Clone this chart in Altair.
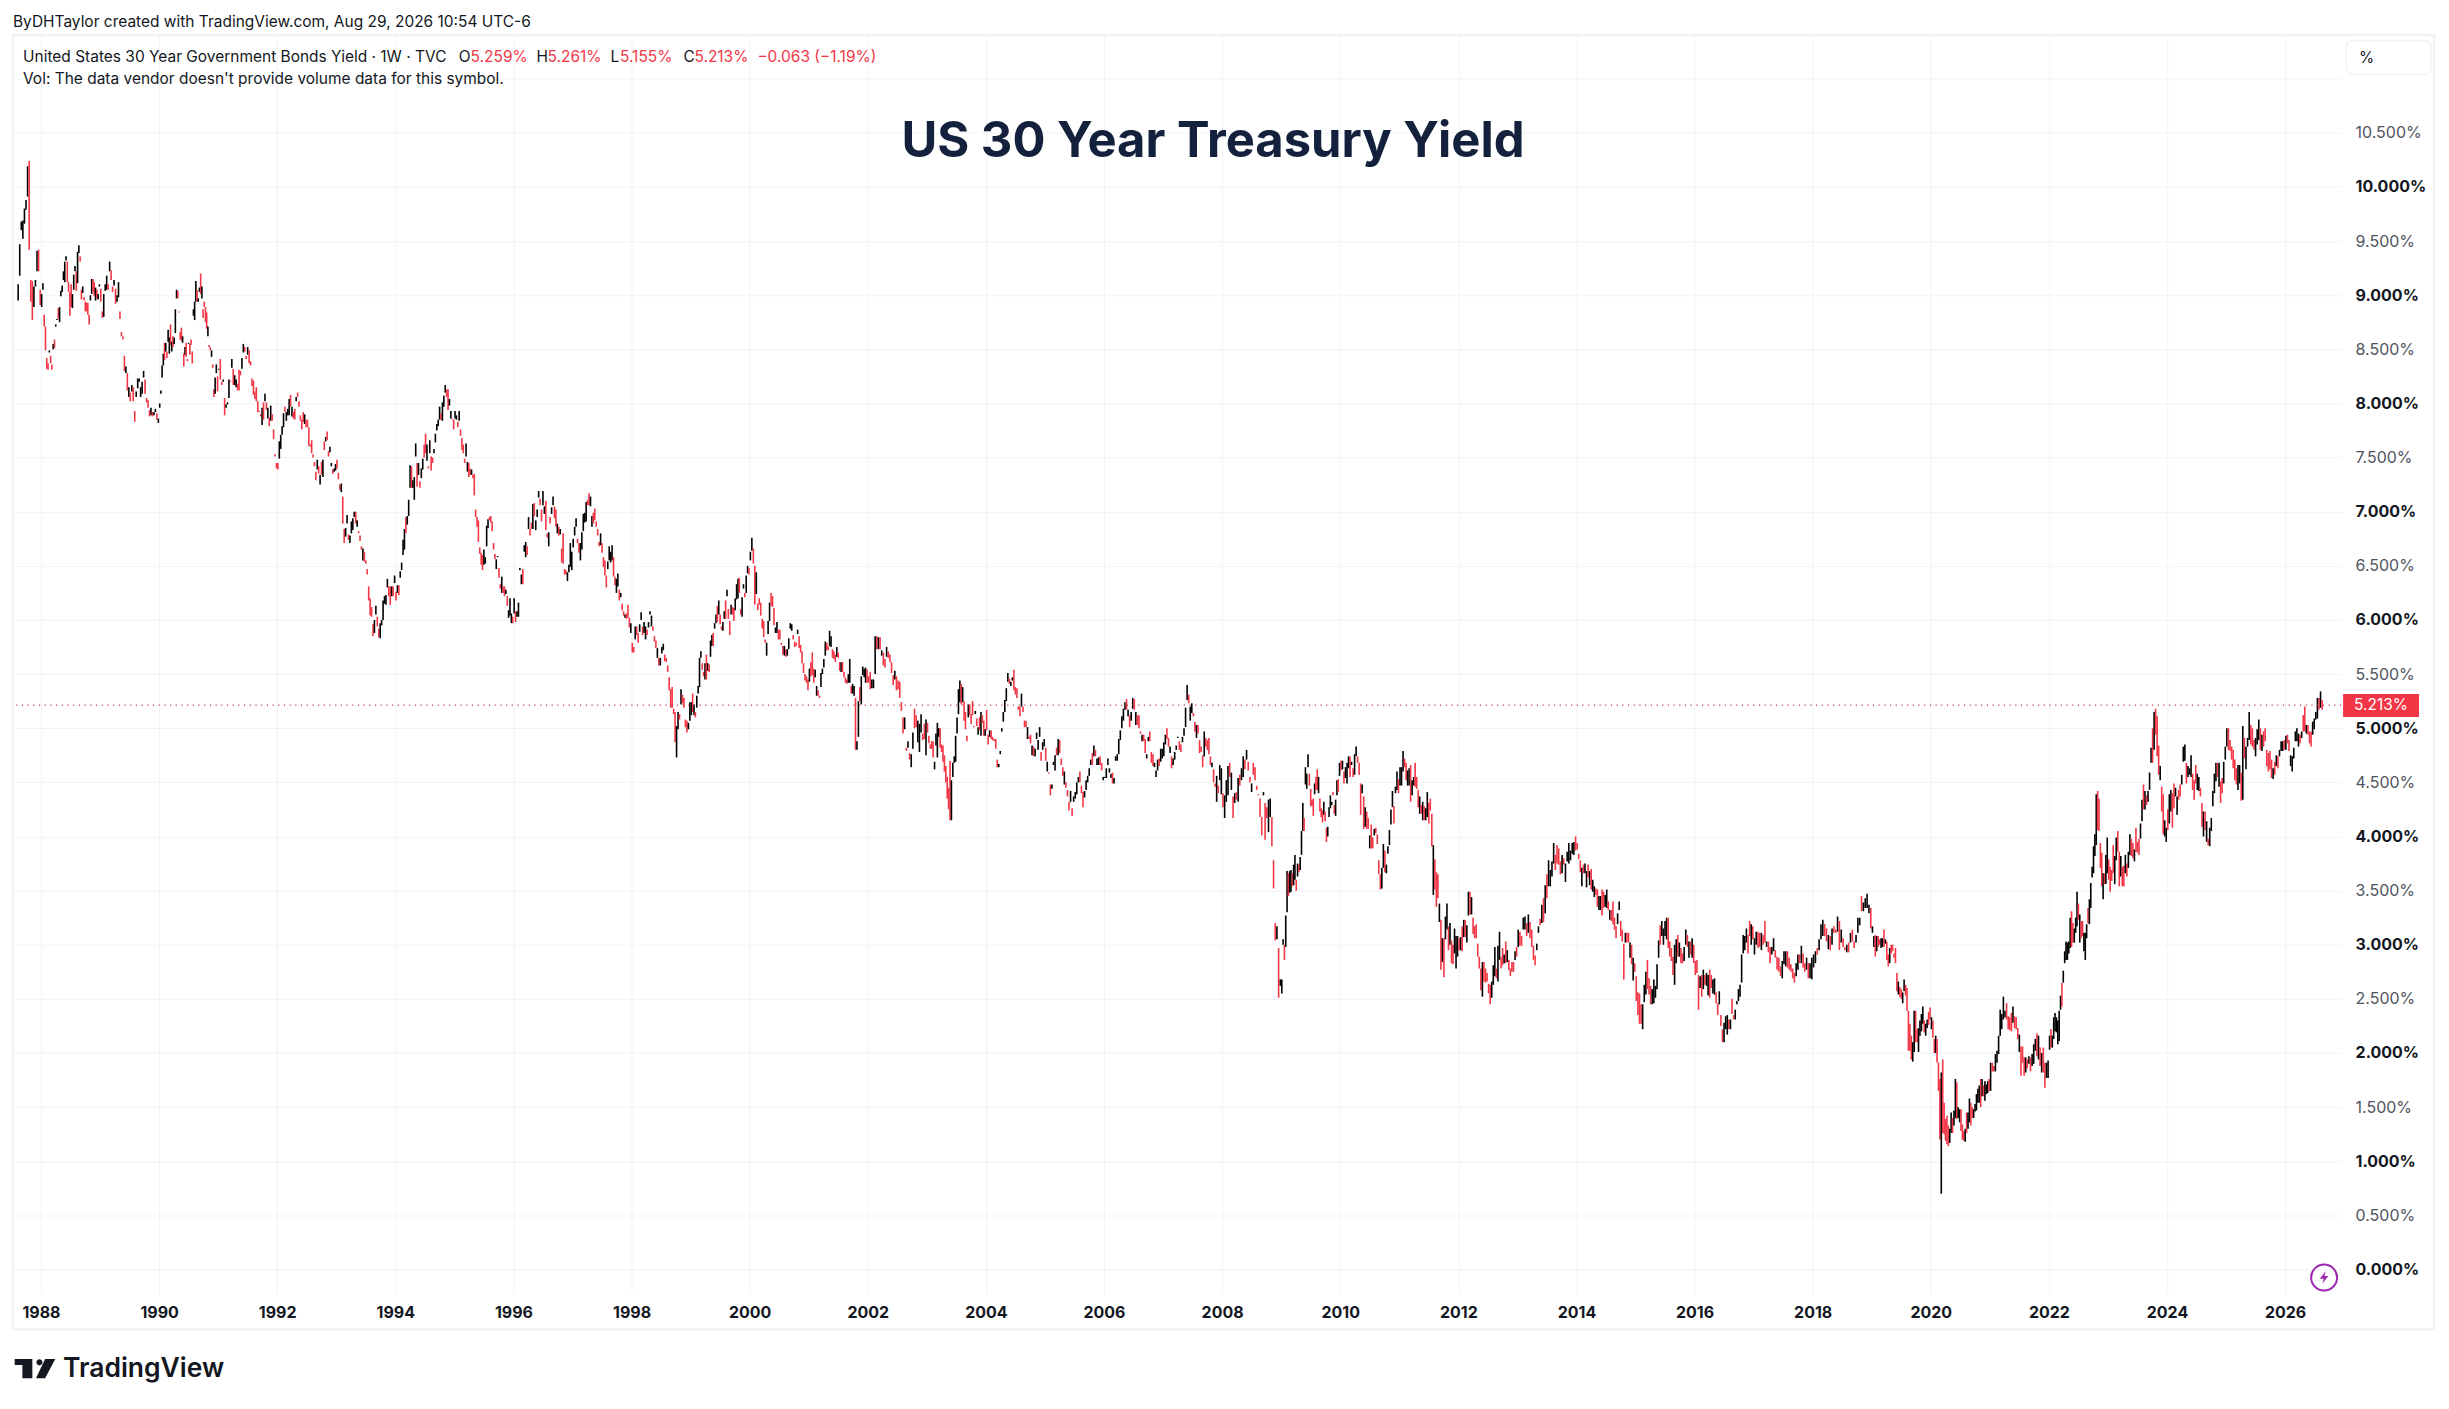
import altair as alt
import pandas as pd

# Each bar: (low, high, closed_up), in chart order per year
y1987 = [(8.95,9.10,1),(9.18,9.47,1),(9.60,9.68,1),(9.52,9.69,1),(9.66,9.80,1),(9.79,9.88,1),(9.91,10.19,1),(9.42,10.24,0),(8.94,9.14,0),(8.77,9.13,0),(8.89,9.08,1),(9.08,9.14,1),(9.22,9.41,1),(9.22,9.42,0),(8.91,9.05,0)]
y1988 = [(8.89,9.01,1),(9.05,9.11,1),(8.71,8.82,0),(8.49,8.71,0),(8.32,8.42,0),(8.31,8.37,0),(8.47,8.49,1),(8.37,8.44,0),(8.31,8.36,0),(8.50,8.55,1),(8.51,8.59,0),(8.71,8.73,1),(8.77,8.78,1),(8.78,8.88,0),(8.75,8.89,1),(8.99,9.04,1),(9.03,9.09,1),(9.14,9.22,1),(9.12,9.31,1),(9.32,9.36,1),(9.12,9.31,0),(9.03,9.12,0),(8.81,9.03,0),(8.89,9.10,0),(8.88,9.01,1),(9.05,9.19,1),(9.22,9.27,1),(9.04,9.22,0),(9.11,9.40,1),(9.39,9.46,1),(9.31,9.36,0),(8.96,9.05,0),(9.02,9.08,1),(8.95,8.98,0),(8.85,8.94,0),(8.85,8.93,0),(8.82,8.93,0),(8.73,8.82,0),(8.95,9.0,1),(9.01,9.15,1),(9.03,9.15,0),(8.99,9.12,0),(8.95,9.07,1),(8.97,9.05,0),(8.96,9.01,1),(9.08,9.10,1)]
y1989 = [(8.94,9.06,0),(8.79,8.85,0),(8.80,9.01,1),(9.04,9.10,1),(9.05,9.18,1),(9.05,9.10,0),(9.22,9.31,1),(9.14,9.23,0),(9.03,9.08,0),(9.09,9.14,1),(8.92,9.06,0),(8.94,9.0,1),(8.98,9.12,1),(8.78,8.85,0),(8.62,8.66,0),(8.59,8.62,0),(8.30,8.44,0),(8.28,8.34,1),(8.12,8.28,0),(8.06,8.15,1),(8.02,8.10,0),(8.11,8.17,1),(8.02,8.15,0),(7.83,7.93,0),(8.06,8.11,1),(8.14,8.23,1),(8.20,8.23,1),(8.06,8.15,1),(8.09,8.2,1),(8.24,8.30,1),(8.09,8.22,0),(8.01,8.05,0),(7.96,8.03,0),(7.88,7.94,0),(7.89,7.96,1),(7.88,7.92,0),(7.89,7.92,1),(7.92,7.95,1),(7.85,7.91,0),(7.82,7.86,1)]
y1990 = [(7.96,8.0,1),(8.09,8.12,1),(8.24,8.35,1),(8.35,8.46,1),(8.4,8.56,0),(8.48,8.56,1),(8.42,8.48,0),(8.57,8.68,1),(8.46,8.61,1),(8.54,8.73,0),(8.48,8.57,1),(8.52,8.62,0),(8.55,8.61,1),(8.65,8.87,1),(8.97,9.05,1),(8.97,9.04,0),(8.84,8.85,0),(8.59,8.66,0),(8.58,8.7,0),(8.56,8.62,1),(8.34,8.46,0),(8.45,8.52,1),(8.43,8.56,0),(8.39,8.41,0),(8.55,8.56,1),(8.45,8.55,0),(8.54,8.59,0),(8.37,8.48,0),(8.81,8.87,1),(8.77,8.94,1),(8.94,9.13,1),(8.94,9.05,0),(8.94,8.97,1),(9.03,9.07,1),(9.01,9.2,0),(8.97,9.08,1),(8.79,8.87,0),(8.89,8.94,0),(8.75,8.89,0),(8.69,8.84,0),(8.62,8.71,1),(8.52,8.54,0),(8.49,8.52,0),(8.43,8.49,1),(8.33,8.36,0),(8.06,8.13,0),(8.09,8.24,1),(8.28,8.36,1),(8.11,8.25,0)]
y1991 = [(8.31,8.32,1),(8.22,8.41,0),(8.17,8.2,0),(8.2,8.22,1),(7.89,8.05,0),(7.96,7.99,1),(7.99,8.01,1),(8.05,8.22,1),(8.2,8.21,0),(8.33,8.41,1),(8.17,8.32,0),(8.17,8.26,1),(8.15,8.22,1),(8.12,8.18,0),(8.12,8.31,0),(8.26,8.3,0),(8.32,8.42,1),(8.47,8.55,1),(8.48,8.52,0),(8.41,8.44,0),(8.45,8.52,1),(8.37,8.49,0),(8.35,8.39,0),(8.16,8.23,0),(8.08,8.21,0),(8.04,8.11,0),(8.02,8.15,0),(7.92,8.02,0),(7.92,7.93,0),(7.88,7.9,0),(7.8,7.96,1),(7.85,8.01,0),(8.02,8.09,1),(7.94,8.01,0),(7.86,7.96,1),(7.79,7.87,0),(7.84,7.98,1),(7.84,7.9,0),(7.67,7.76,0),(7.51,7.53,0),(7.4,7.45,0)]
y1992 = [(7.39,7.45,0),(7.49,7.65,1),(7.58,7.71,1),(7.71,7.79,1),(7.78,7.91,1),(7.92,7.97,0),(7.84,7.92,1),(7.89,7.95,1),(7.89,8.04,1),(7.97,8.08,0),(7.88,7.97,1),(7.86,7.92,0),(7.85,7.95,0),(8.02,8.06,1),(8.06,8.1,0),(7.97,8.02,0),(7.84,7.89,0),(7.76,7.85,0),(7.83,7.92,0),(7.81,7.9,1),(7.78,7.85,0),(7.78,7.85,0),(7.61,7.78,0),(7.6,7.62,0),(7.54,7.66,0),(7.5,7.53,0),(7.42,7.46,0),(7.29,7.37,0),(7.39,7.48,1),(7.35,7.42,0),(7.25,7.34,1),(7.34,7.46,0),(7.32,7.48,1),(7.57,7.65,0),(7.65,7.69,1),(7.66,7.74,0),(7.51,7.56,0),(7.55,7.6,1),(7.42,7.45,1),(7.35,7.39,0),(7.37,7.4,1),(7.38,7.44,1)]
y1993 = [(7.4,7.48,0),(7.3,7.36,0),(7.2,7.25,0),(7.18,7.26,1),(6.89,7.14,0),(6.71,6.84,0),(6.77,6.85,1),(6.89,6.97,1),(6.74,6.79,0),(6.71,6.78,1),(6.8,6.91,1),(6.83,6.94,1),(6.95,7.0,1),(6.89,7.0,0),(6.86,6.92,1),(6.8,6.82,0),(6.73,6.78,0),(6.65,6.68,0),(6.55,6.66,1),(6.54,6.63,0),(6.52,6.55,0),(6.42,6.47,0),(6.18,6.31,0),(6.04,6.2,0),(6.03,6.12,0),(5.85,5.96,0),(5.88,6.0,1),(6.05,6.13,1),(5.94,6.03,0),(5.84,5.92,0),(5.83,5.97,1),(5.95,6.0,1),(6.0,6.18,1),(6.15,6.22,1),(6.14,6.23,1),(6.3,6.38,1),(6.22,6.31,0),(6.14,6.31,0),(6.22,6.31,1),(6.22,6.31,0),(6.34,6.41,1)]
y1994 = [(6.18,6.26,0),(6.25,6.32,1),(6.23,6.32,0),(6.39,6.45,1),(6.46,6.53,1),(6.6,6.74,1),(6.65,6.84,1),(6.8,6.95,0),(6.88,6.96,1),(6.96,7.11,1),(7.22,7.43,1),(7.22,7.42,0),(7.22,7.29,1),(7.11,7.32,1),(7.51,7.63,1),(7.23,7.45,0),(7.34,7.45,1),(7.22,7.28,0),(7.31,7.4,1),(7.39,7.49,1),(7.5,7.62,0),(7.54,7.72,0),(7.47,7.62,1),(7.4,7.42,0),(7.54,7.66,1),(7.38,7.51,0),(7.45,7.5,0),(7.54,7.58,1),(7.64,7.72,1),(7.75,7.81,1),(7.79,7.85,1),(7.85,7.97,1),(7.85,7.91,0),(7.84,8.01,1),(7.97,8.07,1),(8.1,8.17,1),(8.06,8.13,0),(7.94,8.13,0),(7.98,8.04,1),(7.86,7.93,1),(7.85,7.86,0),(7.76,7.85,0)]
y1995 = [(7.86,7.93,1),(7.85,7.89,1),(7.78,7.83,0),(7.84,7.93,1),(7.7,7.76,0),(7.57,7.68,0),(7.54,7.62,0),(7.45,7.49,0),(7.51,7.63,1),(7.37,7.46,1),(7.32,7.45,0),(7.34,7.4,0),(7.34,7.39,1),(7.31,7.34,0),(7.15,7.35,0),(6.95,7.02,0),(6.86,6.95,0),(6.72,6.92,0),(6.61,6.67,0),(6.51,6.62,0),(6.46,6.6,0),(6.51,6.65,1),(6.52,6.58,1),(6.68,6.87,1),(6.85,6.93,1),(6.92,6.95,0),(6.9,6.96,0),(6.82,6.91,0),(6.65,6.71,0),(6.56,6.61,0),(6.47,6.56,1),(6.58,6.59,1),(6.39,6.48,0),(6.29,6.33,0),(6.25,6.4,1),(6.25,6.31,0),(6.22,6.31,0),(6.24,6.28,1),(6.13,6.22,0),(6.02,6.09,1),(6.04,6.2,1),(5.97,6.06,1),(5.97,6.03,0)]
y1996 = [(6.06,6.2,1),(5.98,6.08,0),(6.03,6.08,1),(6.03,6.16,1),(6.46,6.48,1),(6.33,6.42,1),(6.33,6.47,0),(6.63,6.69,1),(6.58,6.72,1),(6.6,6.68,0),(6.84,6.95,1),(6.78,6.84,0),(6.84,6.9,0),(6.84,7.07,1),(6.96,7.08,0),(6.83,6.92,1),(6.95,7.02,1),(7.13,7.19,1),(7.06,7.12,0),(6.91,7.02,0),(7.06,7.19,1),(6.98,7.05,1),(6.83,7.1,0),(6.76,6.8,0),(6.68,6.81,1),(6.89,6.95,0),(6.98,7.04,1),(7.06,7.14,1),(6.94,7.05,0),(6.86,7.02,0),(6.8,6.89,1),(6.78,6.86,0),(6.79,6.84,1),(6.53,6.66,0),(6.52,6.8,0),(6.42,6.47,0),(6.42,6.46,0),(6.36,6.44,1),(6.44,6.51,1),(6.49,6.71,1),(6.46,6.63,1)]
y1997 = [(6.67,6.75,1),(6.78,6.86,1),(6.86,6.94,1),(6.71,6.75,0),(6.62,6.71,0),(6.55,6.71,1),(6.65,6.81,1),(6.82,6.98,1),(6.9,6.99,1),(6.91,7.09,1),(7.06,7.11,0),(7.06,7.17,0),(7.05,7.14,1),(6.86,6.96,1),(6.89,6.99,0),(6.92,7.03,0),(6.86,6.91,0),(6.78,6.84,0),(6.68,6.72,0),(6.69,6.8,1),(6.62,6.71,0),(6.49,6.58,0),(6.41,6.55,0),(6.3,6.41,0),(6.47,6.54,1),(6.55,6.68,1),(6.53,6.63,1),(6.55,6.69,1),(6.4,6.58,0),(6.32,6.4,0),(6.25,6.38,1),(6.31,6.43,1),(6.18,6.28,0),(6.21,6.25,1),(6.09,6.15,0),(6.04,6.08,0),(6.02,6.05,1),(6.01,6.06,0),(6.02,6.14,0),(5.93,6.02,0),(5.88,5.97,1)]
y1998 = [(5.7,5.79,0),(5.7,5.75,0),(5.82,5.94,1),(5.86,5.94,0),(5.79,5.88,0),(5.89,5.96,1),(6.0,6.07,1),(5.86,5.94,0),(5.88,5.98,1),(5.82,5.94,1),(5.86,5.91,0),(5.93,5.98,1),(6.05,6.08,1),(5.94,6.04,1),(5.9,5.94,0),(5.8,5.85,0),(5.74,5.81,0),(5.65,5.74,1),(5.58,5.65,0),(5.58,5.65,1),(5.69,5.75,1),(5.72,5.78,1),(5.62,5.68,0),(5.61,5.65,0),(5.52,5.58,0),(5.35,5.47,0),(5.19,5.36,0),(5.19,5.38,0),(5.13,5.18,0),(4.87,5.15,0),(4.73,5.02,1),(4.99,5.15,1),(5.08,5.13,0),(5.22,5.36,1),(5.23,5.31,0),(5.19,5.28,0),(5.01,5.08,0),(4.96,5.07,0),(4.99,5.05,1),(5.07,5.24,1)]
y1999 = [(5.12,5.24,1),(5.15,5.32,0),(5.12,5.22,1),(5.1,5.15,0),(5.19,5.3,1),(5.32,5.39,1),(5.38,5.65,1),(5.65,5.71,1),(5.54,5.6,0),(5.48,5.52,0),(5.45,5.6,1),(5.45,5.68,0),(5.53,5.6,1),(5.52,5.59,0),(5.66,5.81,1),(5.76,5.86,1),(5.76,5.88,0),(5.92,5.97,1),(5.97,6.05,1),(5.98,6.13,0),(6.05,6.18,1),(5.96,6.05,0),(5.91,5.94,0),(5.9,5.98,1),(6.01,6.08,1),(6.01,6.18,0),(6.22,6.28,1),(6.01,6.1,0),(5.86,5.99,0),(6.05,6.14,1),(6.05,6.12,0),(5.99,6.11,0),(6.09,6.2,1),(6.19,6.33,1),(6.2,6.38,1),(6.25,6.39,0),(6.05,6.1,0),(6.03,6.21,1),(6.29,6.33,1),(6.21,6.25,0),(6.25,6.41,1),(6.43,6.5,1),(6.42,6.48,0)]
y2000 = [(6.55,6.63,1),(6.64,6.76,1),(6.52,6.66,0),(6.14,6.5,0),(6.24,6.44,1),(6.09,6.15,0),(6.14,6.2,0),(6.04,6.16,0),(5.92,6.01,0),(5.84,5.99,0),(5.79,5.82,0),(5.67,5.79,1),(5.87,5.99,1),(5.99,6.16,1),(6.13,6.25,0),(6.12,6.22,0),(5.95,6.11,0),(5.88,5.93,1),(5.88,5.98,1),(5.82,5.91,0),(5.82,5.91,0),(5.77,5.79,0),(5.68,5.76,0),(5.67,5.76,1),(5.66,5.73,0),(5.67,5.73,1),(5.73,5.83,1),(5.92,5.97,1),(5.9,5.96,1),(5.82,5.86,0),(5.75,5.8,0),(5.76,5.79,0),(5.87,5.91,1),(5.74,5.85,0),(5.7,5.77,0),(5.6,5.71,0),(5.51,5.6,0),(5.44,5.5,0),(5.42,5.48,0),(5.35,5.45,0)]
y2001 = [(5.43,5.55,1),(5.48,5.61,0),(5.49,5.7,0),(5.42,5.55,0),(5.47,5.54,1),(5.3,5.39,1),(5.3,5.35,0),(5.28,5.3,0),(5.38,5.51,1),(5.5,5.55,1),(5.56,5.64,1),(5.67,5.8,1),(5.72,5.79,0),(5.72,5.76,0),(5.76,5.9,1),(5.75,5.85,1),(5.65,5.73,0),(5.64,5.71,0),(5.61,5.68,0),(5.66,5.75,1),(5.65,5.7,0),(5.53,5.61,0),(5.52,5.61,1),(5.52,5.61,0),(5.47,5.52,0),(5.42,5.47,0),(5.41,5.45,0),(5.42,5.5,1),(5.42,5.64,1),(5.32,5.39,0),(5.32,5.41,1),(5.3,5.39,1),(4.8,5.28,0),(4.8,4.88,1),(4.92,5.25,1),(5.25,5.38,0),(5.22,5.48,1),(5.49,5.57,1),(5.47,5.55,1),(5.42,5.56,1),(5.42,5.54,0)]
y2002 = [(5.42,5.48,0),(5.36,5.52,0),(5.37,5.45,1),(5.37,5.45,1),(5.5,5.85,1),(5.73,5.85,0),(5.73,5.84,1),(5.73,5.84,0),(5.67,5.72,1),(5.58,5.7,0),(5.56,5.64,0),(5.66,5.75,1),(5.65,5.71,0),(5.61,5.68,0),(5.51,5.61,0),(5.4,5.49,0),(5.45,5.53,1),(5.35,5.48,0),(5.36,5.44,0),(5.28,5.43,0),(5.16,5.24,0),(4.95,5.1,0),(4.99,5.1,1),(4.79,4.82,0),(4.82,4.88,1),(4.71,4.77,0),(4.64,4.76,1),(4.81,4.96,1),(5.0,5.18,0),(5.01,5.12,0),(4.87,5.07,1),(4.78,5.04,1),(4.96,5.13,1),(4.89,4.95,0),(4.9,5.04,0),(4.75,5.08,1)]
y2003 = [(4.96,5.05,0),(4.86,4.93,0),(4.81,4.85,0),(4.81,4.88,0),(4.73,4.88,0),(4.62,4.69,1),(4.84,4.95,1),(4.73,5.05,1),(4.92,5.0,1),(4.82,5.0,0),(4.78,4.85,0),(4.69,4.84,0),(4.6,4.75,0),(4.5,4.65,0),(4.35,4.55,0),(4.25,4.45,0),(4.15,4.7,0),(4.15,4.52,1),(4.55,4.68,1),(4.68,4.74,1),(4.69,4.93,1),(4.95,5.1,1),(5.13,5.36,1),(5.24,5.44,1),(5.22,5.41,0),(5.24,5.38,1),(5.07,5.25,0),(4.99,5.15,0),(4.88,4.93,0),(5.1,5.22,1),(5.12,5.22,0),(5.04,5.13,0),(5.12,5.25,0),(5.01,5.02,0),(5.13,5.16,1),(5.02,5.09,0),(4.94,5.01,1),(4.98,5.1,0),(4.93,5.15,1),(5.05,5.12,0),(4.93,5.07,0),(4.93,4.99,1)]
y2004 = [(4.98,5.17,0),(4.85,4.94,0),(4.92,4.98,1),(4.9,4.98,0),(4.89,4.92,0),(4.88,4.9,0),(4.81,4.9,0),(4.64,4.71,0),(4.64,4.67,1),(4.76,4.79,1),(4.97,5.0,1),(5.06,5.15,1),(5.15,5.26,1),(5.25,5.37,1),(5.43,5.51,1),(5.41,5.46,0),(5.39,5.43,1),(5.44,5.47,1),(5.35,5.54,0),(5.31,5.38,0),(5.28,5.37,0),(5.17,5.2,0),(5.11,5.2,0),(5.2,5.32,1),(5.15,5.2,0),(5.01,5.07,0),(5.01,5.07,0),(4.9,5.01,1),(4.9,4.92,0),(4.86,4.94,0),(4.75,4.84,1),(4.74,4.83,0),(4.74,4.81,1),(4.9,4.96,1),(4.8,4.89,1),(4.92,5.01,1),(4.7,4.78,0),(4.8,4.87,1),(4.83,4.9,1)]
y2005 = [(4.7,4.82,0),(4.6,4.69,1),(4.58,4.59,0),(4.38,4.48,0),(4.44,4.48,1),(4.66,4.69,1),(4.61,4.75,1),(4.75,4.82,0),(4.75,4.9,1),(4.77,4.89,0),(4.66,4.72,0),(4.56,4.64,0),(4.48,4.6,1),(4.45,4.5,0),(4.37,4.43,0),(4.24,4.32,0),(4.32,4.42,1),(4.19,4.26,0),(4.32,4.37,1),(4.35,4.41,1),(4.39,4.5,1),(4.5,4.55,1),(4.5,4.6,0),(4.4,4.47,0),(4.27,4.41,0),(4.36,4.42,1),(4.43,4.52,1),(4.5,4.56,1),(4.56,4.63,1),(4.66,4.71,1),(4.66,4.77,0),(4.74,4.84,1),(4.74,4.8,0),(4.66,4.72,1),(4.66,4.73,1),(4.66,4.74,0),(4.61,4.68,0),(4.52,4.55,1)]
y2006 = [(4.54,4.55,1),(4.54,4.63,1),(4.66,4.72,1),(4.59,4.63,1),(4.54,4.58,1),(4.49,4.59,0),(4.49,4.54,1),(4.7,4.74,1),(4.7,4.76,1),(4.76,4.9,1),(4.89,4.98,1),(5.0,5.11,1),(5.07,5.18,1),(5.17,5.24,1),(5.17,5.27,0),(5.11,5.17,1),(5.01,5.12,0),(5.07,5.15,1),(5.18,5.28,1),(5.17,5.27,0),(5.03,5.15,1),(5.03,5.12,0),(5.0,5.12,0),(4.95,4.97,0),(4.88,4.94,1),(4.88,4.94,0),(4.77,4.9,0),(4.72,4.76,1),(4.88,4.92,1),(4.88,4.97,0),(4.68,4.78,0),(4.65,4.76,0),(4.64,4.68,1),(4.55,4.61,1),(4.61,4.71,1),(4.65,4.72,0),(4.69,4.81,1),(4.72,4.81,1)]
y2007 = [(4.74,4.87,1),(4.85,4.94,1),(4.9,5.0,0),(4.83,4.91,0),(4.77,4.83,1),(4.63,4.74,0),(4.66,4.72,1),(4.71,4.78,1),(4.8,4.84,1),(4.91,4.92,1),(4.8,4.88,0),(4.78,4.85,0),(4.87,4.92,1),(4.93,5.0,1),(5.01,5.19,1),(5.26,5.4,1),(5.23,5.31,0),(5.07,5.2,1),(5.14,5.23,1),(5.11,5.14,0),(4.97,5.06,0),(4.91,5.03,1),(4.95,5.03,0),(4.77,4.89,0),(4.78,4.83,0),(4.64,4.75,0),(4.74,4.97,1),(4.83,4.91,0),(4.8,4.89,0),(4.76,4.91,0),(4.66,4.74,0),(4.64,4.68,1),(4.5,4.62,0),(4.46,4.49,0),(4.32,4.56,1),(4.4,4.47,0),(4.52,4.66,1),(4.39,4.63,1)]
y2008 = [(4.27,4.4,0),(4.17,4.38,1),(4.32,4.52,1),(4.38,4.65,1),(4.55,4.68,0),(4.43,4.59,1),(4.17,4.37,0),(4.31,4.4,1),(4.34,4.41,0),(4.32,4.54,1),(4.47,4.57,0),(4.52,4.63,1),(4.55,4.74,1),(4.62,4.71,0),(4.71,4.8,1),(4.61,4.69,0),(4.5,4.55,0),(4.41,4.49,1),(4.57,4.68,0),(4.52,4.64,0),(4.43,4.47,0),(4.38,4.39,0),(4.18,4.35,0),(4.01,4.18,0),(4.38,4.41,1),(3.97,4.31,0),(4.17,4.27,0),(4.04,4.34,1),(4.18,4.35,1),(3.91,4.18,0),(3.52,3.78,0),(3.04,3.2,0),(3.05,3.17,1),(2.51,2.97,0),(2.62,2.68,1)]
y2009 = [(2.55,2.68,1),(3.0,3.05,1),(2.86,3.0,0),(2.98,3.27,1),(3.3,3.68,1),(3.45,3.66,0),(3.48,3.68,1),(3.49,3.69,1),(3.54,3.66,0),(3.55,3.74,1),(3.6,3.83,1),(3.5,3.6,0),(3.63,3.75,1),(3.67,3.74,0),(3.69,3.81,1),(3.83,4.05,1),(4.05,4.31,1),(4.05,4.17,0),(4.48,4.64,1),(4.44,4.58,1),(4.64,4.76,1),(4.47,4.58,0),(4.28,4.44,0),(4.28,4.34,0),(4.19,4.35,0),(4.39,4.49,1),(4.43,4.55,0),(4.43,4.62,0),(4.4,4.55,1),(4.23,4.35,0),(4.18,4.26,0),(4.13,4.24,0),(4.2,4.32,1),(4.14,4.23,0),(3.95,4.08,0),(4.0,4.09,1),(4.18,4.27,1),(4.26,4.38,1),(4.29,4.32,1),(4.38,4.41,0),(4.21,4.29,0),(4.19,4.34,1),(4.38,4.52,1),(4.41,4.53,0),(4.56,4.68,1)]
y2010 = [(4.61,4.7,0),(4.62,4.7,1),(4.49,4.6,0),(4.54,4.64,1),(4.49,4.68,1),(4.63,4.74,1),(4.55,4.74,0),(4.66,4.69,1),(4.55,4.63,0),(4.57,4.76,1),(4.74,4.83,1),(4.68,4.74,0),(4.57,4.68,0),(4.2,4.49,0),(4.4,4.48,1),(4.07,4.37,0),(4.09,4.27,1),(4.07,4.23,0),(4.07,4.17,0),(3.89,4.01,1),(3.89,4.11,0),(3.89,3.99,0),(4.01,4.07,1),(4.03,4.08,0),(3.93,4.02,0),(3.65,3.78,0),(3.51,3.65,0),(3.52,3.71,1),(3.71,3.93,1),(3.67,3.87,0),(3.66,3.74,1),(3.84,3.91,1),(3.92,4.06,1),(4.11,4.25,1),(4.27,4.42,1),(4.12,4.28,0),(4.4,4.46,1),(4.43,4.6,1),(4.4,4.53,0)]
y2011 = [(4.47,4.64,1),(4.47,4.64,1),(4.6,4.79,1),(4.64,4.72,0),(4.52,4.68,0),(4.47,4.61,1),(4.47,4.63,1),(4.32,4.66,0),(4.38,4.52,1),(4.47,4.55,1),(4.46,4.68,0),(4.44,4.55,0),(4.27,4.43,0),(4.21,4.37,1),(4.21,4.29,0),(4.15,4.32,1),(4.15,4.28,0),(4.15,4.26,1),(4.18,4.41,1),(4.12,4.31,0),(4.24,4.35,0),(3.91,4.21,0),(3.46,3.92,1),(3.51,3.79,0),(3.35,3.67,0),(3.43,3.65,0),(3.21,3.38,1),(2.77,3.23,0),(2.84,3.06,1),(2.7,3.06,0),(3.05,3.26,1),(3.14,3.38,1),(2.95,3.17,0),(3.0,3.2,1),(2.83,3.04,0),(2.82,3.0,0),(2.92,3.15,1),(2.78,3.08,1),(2.89,3.08,1)]
y2012 = [(2.95,3.06,0),(2.95,3.07,1),(2.94,3.17,0),(3.07,3.23,1),(3.07,3.23,0),(3.02,3.18,1),(3.27,3.49,1),(3.28,3.49,0),(3.28,3.44,1),(3.1,3.25,0),(3.06,3.17,0),(3.06,3.19,0),(2.89,3.01,0),(2.78,2.89,0),(2.58,2.78,0),(2.52,2.84,1),(2.66,2.84,0),(2.65,2.78,0),(2.66,2.74,0),(2.55,2.64,0),(2.45,2.63,0),(2.51,2.66,1),(2.63,2.81,1),(2.71,2.98,1),(2.69,2.78,0),(2.66,2.99,1),(2.86,3.12,1),(2.78,2.89,0),(2.81,2.97,0),(2.83,2.91,1),(2.83,3.03,0),(2.84,2.95,1),(2.77,2.86,0),(2.71,2.78,0),(2.75,2.84,0),(2.75,2.84,0),(2.86,2.94,1),(2.89,2.98,0)]
y2013 = [(2.98,3.14,1),(2.99,3.12,0),(2.99,3.08,0),(3.14,3.25,1),(3.14,3.26,1),(3.08,3.2,0),(3.11,3.28,1),(3.06,3.21,0),(2.98,3.14,0),(2.86,2.99,0),(2.81,2.9,0),(2.95,3.01,1),(3.11,3.17,1),(3.18,3.24,0),(3.2,3.37,1),(3.21,3.43,0),(3.29,3.55,1),(3.43,3.65,0),(3.54,3.78,1),(3.54,3.69,1),(3.63,3.77,1),(3.75,3.94,1),(3.69,3.83,0),(3.75,3.92,0),(3.74,3.89,0),(3.65,3.77,0),(3.66,3.83,1),(3.74,3.8,0),(3.58,3.75,1),(3.77,3.86,1),(3.75,3.94,1),(3.78,3.87,1),(3.84,3.94,1),(3.83,3.95,1),(3.87,4.0,0)]
y2014 = [(3.88,3.94,0),(3.79,3.84,0),(3.67,3.78,0),(3.54,3.71,1),(3.66,3.74,0),(3.66,3.75,1),(3.53,3.68,1),(3.62,3.74,0),(3.55,3.68,1),(3.51,3.7,0),(3.49,3.6,1),(3.44,3.54,1),(3.46,3.52,0),(3.35,3.51,0),(3.32,3.45,1),(3.32,3.45,1),(3.27,3.51,0),(3.34,3.49,0),(3.35,3.46,1),(3.34,3.51,1),(3.32,3.4,0),(3.23,3.32,1),(3.22,3.32,0),(3.19,3.4,0),(3.14,3.25,0),(3.06,3.17,0),(3.19,3.29,1),(3.32,3.4,1),(3.08,3.22,0),(3.03,3.14,0),(2.68,3.01,0),(3.02,3.11,1),(3.02,3.11,0),(3.02,3.11,0),(2.88,3.02,1),(2.82,3.0,0),(2.67,2.88,1),(2.75,2.83,0)]
y2015 = [(2.48,2.71,0),(2.35,2.56,0),(2.27,2.55,0),(2.27,2.45,0),(2.22,2.45,1),(2.47,2.63,1),(2.54,2.75,1),(2.59,2.86,0),(2.54,2.69,0),(2.45,2.62,0),(2.45,2.59,1),(2.46,2.68,1),(2.51,2.62,1),(2.59,2.82,1),(2.88,3.04,1),(3.0,3.18,0),(3.08,3.22,1),(3.0,3.15,1),(3.08,3.22,1),(3.05,3.25,1),(2.97,3.25,0),(2.89,3.03,0),(2.85,2.97,0),(2.72,2.89,0),(2.63,3.0,1),(2.83,3.05,1),(2.89,3.09,0),(2.89,3.02,1),(2.83,2.97,0),(2.83,2.92,0),(2.85,2.98,1),(3.0,3.14,1),(2.98,3.09,0),(2.88,3.03,1),(2.91,3.03,0),(2.88,3.06,1),(2.83,3.0,0)]
y2016 = [(2.72,2.85,0),(2.74,2.86,0),(2.4,2.72,0),(2.6,2.71,1),(2.52,2.72,0),(2.59,2.77,1),(2.63,2.72,0),(2.62,2.74,1),(2.53,2.72,1),(2.51,2.77,0),(2.6,2.72,0),(2.55,2.68,1),(2.54,2.69,1),(2.46,2.56,0),(2.35,2.46,0),(2.45,2.57,1),(2.25,2.35,0),(2.1,2.22,0),(2.1,2.28,1),(2.22,2.34,1),(2.17,2.35,1),(2.22,2.31,0),(2.22,2.31,1),(2.36,2.5,0),(2.31,2.35,0),(2.31,2.4,1),(2.45,2.48,1),(2.48,2.59,1),(2.52,2.63,1),(2.65,2.91,1),(2.92,3.09,1),(2.95,3.08,1),(3.02,3.15,1),(2.92,3.09,0),(3.08,3.22,0),(3.0,3.19,1),(3.05,3.17,0)]
y2017 = [(2.91,3.06,1),(3.0,3.12,1),(2.97,3.12,0),(2.98,3.11,0),(2.95,3.11,1),(3.0,3.09,0),(3.02,3.22,0),(2.98,3.03,1),(2.93,3.03,0),(2.83,2.98,0),(2.91,2.98,1),(2.94,3.06,1),(2.88,2.95,0),(2.77,2.89,0),(2.75,2.88,0),(2.71,2.8,0),(2.69,2.85,1),(2.82,2.94,1),(2.8,2.94,1),(2.79,2.94,0),(2.77,2.88,0),(2.75,2.82,0),(2.69,2.78,0),(2.65,2.74,0),(2.71,2.83,1),(2.77,2.91,1),(2.83,2.91,0),(2.83,2.99,1),(2.79,2.92,0),(2.75,2.83,0),(2.77,2.88,1),(2.69,2.83,0),(2.69,2.83,1),(2.68,2.88,1)]
y2018 = [(2.79,2.91,1),(2.83,2.94,1),(2.91,2.97,0),(2.95,3.05,1),(3.05,3.19,1),(3.08,3.23,1),(3.08,3.19,0),(3.03,3.15,0),(2.96,3.09,1),(2.95,3.08,0),(3.0,3.15,1),(3.11,3.17,0),(3.11,3.14,0),(3.12,3.26,1),(2.95,3.22,0),(3.02,3.14,1),(2.98,3.06,0),(2.95,2.98,0),(2.93,3.0,1),(2.93,3.02,0),(3.02,3.11,1),(3.03,3.14,0),(2.97,3.03,0),(3.02,3.09,1),(3.11,3.25,1),(3.18,3.25,1),(3.31,3.45,0),(3.31,3.39,1),(3.34,3.43,1),(3.34,3.47,1),(3.29,3.37,1),(3.15,3.34,0)]
y2019 = [(3.11,3.17,1),(2.98,3.08,1),(2.89,3.09,0),(2.94,3.08,1),(2.98,3.08,0),(3.0,3.05,0),(2.97,3.06,1),(2.98,3.06,1),(2.98,3.14,0),(3.01,3.05,1),(2.86,3.03,0),(2.8,2.91,0),(2.83,2.97,1),(2.92,3.0,0),(2.94,3.0,0),(2.88,2.92,0),(2.83,2.97,0),(2.57,2.74,0),(2.54,2.66,1),(2.52,2.61,0),(2.5,2.59,0),(2.46,2.56,1),(2.57,2.68,1),(2.53,2.63,0),(2.39,2.6,0),(2.02,2.39,0),(2.02,2.27,0),(1.94,2.16,0),(1.92,2.1,1),(2.01,2.39,1),(2.1,2.39,0),(2.1,2.22,0),(2.01,2.23,1),(2.16,2.3,1),(2.2,2.36,1),(2.27,2.43,1),(2.19,2.3,0),(2.16,2.27,1),(2.23,2.31,1),(2.26,2.38,0),(2.31,2.42,0)]
y2020 = [(2.22,2.33,1),(2.14,2.3,0),(2.0,2.13,0),(2.0,2.16,1),(1.91,2.13,0),(1.65,1.91,0),(1.2,1.76,0),(0.7,1.82,1),(1.26,1.94,0),(1.25,1.54,0),(1.19,1.39,0),(1.16,1.42,0),(1.14,1.33,0),(1.17,1.3,1),(1.26,1.45,1),(1.26,1.4,0),(1.33,1.47,1),(1.4,1.76,1),(1.39,1.73,0),(1.4,1.5,1),(1.36,1.48,1),(1.28,1.48,0),(1.2,1.34,0),(1.19,1.28,0),(1.18,1.3,1),(1.26,1.45,0),(1.3,1.45,1),(1.36,1.58,1),(1.33,1.54,0),(1.4,1.5,0),(1.4,1.48,1),(1.46,1.53,1),(1.47,1.62,1),(1.54,1.67,1),(1.54,1.7,1),(1.5,1.76,0),(1.6,1.76,1),(1.6,1.7,0),(1.56,1.74,1),(1.62,1.71,1),(1.63,1.74,1),(1.65,1.76,0)]
y2021 = [(1.65,1.91,1),(1.83,1.91,0),(1.83,1.88,0),(1.83,1.99,1),(1.91,2.02,1),(1.99,2.16,1),(2.16,2.4,1),(2.22,2.36,1),(2.31,2.52,1),(2.33,2.39,1),(2.31,2.46,0),(2.22,2.34,0),(2.21,2.33,0),(2.2,2.37,0),(2.28,2.43,1),(2.23,2.34,0),(2.22,2.33,0),(2.13,2.23,0),(2.01,2.17,1),(1.79,2.06,0),(1.91,2.06,0),(1.79,1.96,0),(1.82,1.96,1),(1.86,1.94,0),(1.9,1.97,1),(1.83,1.96,0),(1.88,1.99,1),(1.9,2.08,1),(2.02,2.13,1),(1.97,2.18,0),(1.94,2.16,1),(1.88,2.05,0),(1.82,2.0,1),(1.82,2.05,0),(1.68,1.91,0),(1.77,1.91,1),(1.77,1.93,1)]
y2022 = [(2.03,2.16,1),(2.05,2.22,0),(2.05,2.16,1),(2.13,2.33,1),(2.2,2.37,1),(2.19,2.33,1),(2.08,2.3,1),(2.11,2.39,1),(2.4,2.53,1),(2.43,2.65,0),(2.65,2.76,1),(2.83,2.94,1),(2.86,3.03,1),(2.86,3.02,1),(2.92,3.03,1),(2.97,3.25,1),(2.98,3.31,0),(3.02,3.2,0),(3.02,3.15,1),(3.11,3.25,1),(3.17,3.49,1),(3.23,3.38,0),(3.02,3.28,1),(3.06,3.22,0),(3.08,3.22,0),(2.94,3.11,1),(2.86,3.11,1),(3.06,3.19,1),(3.2,3.34,0),(3.19,3.42,1),(3.34,3.57,1),(3.62,3.72,1),(3.66,3.91,1),(3.82,4.02,1),(3.92,4.39,1),(4.06,4.42,0),(4.05,4.35,0),(3.71,3.94,0),(3.54,3.85,0),(3.42,3.66,1),(3.56,3.66,0),(3.56,3.83,1),(3.66,3.99,1)]
y2023 = [(3.6,3.79,0),(3.49,3.72,0),(3.59,3.69,0),(3.66,3.92,0),(3.56,3.82,1),(3.78,3.99,1),(3.86,4.05,0),(3.54,3.86,0),(3.63,3.82,1),(3.54,3.72,0),(3.54,3.73,0),(3.66,3.83,1),(3.63,3.75,0),(3.71,3.86,1),(3.83,4.02,1),(3.82,3.98,0),(3.8,3.94,0),(3.77,3.88,1),(3.86,4.08,0),(3.85,3.95,0),(3.83,3.98,0),(3.98,4.12,1),(4.14,4.34,1),(4.25,4.48,0),(4.25,4.42,1),(4.29,4.38,0),(4.32,4.42,1),(4.43,4.59,1),(4.68,4.82,1),(4.68,5.0,0),(4.8,5.15,1),(4.94,5.18,0),(4.74,5.11,0),(4.57,4.84,0),(4.52,4.65,1),(4.23,4.46,0),(4.02,4.39,0),(4.0,4.15,1),(3.95,4.08,1)]
y2024 = [(4.06,4.25,0),(4.12,4.39,1),(4.23,4.43,1),(4.08,4.4,0),(4.26,4.49,0),(4.37,4.45,1),(4.2,4.37,1),(4.34,4.43,0),(4.37,4.48,0),(4.48,4.57,1),(4.69,4.83,1),(4.7,4.85,1),(4.49,4.68,0),(4.55,4.65,1),(4.57,4.63,1),(4.55,4.75,1),(4.43,4.58,0),(4.34,4.52,0),(4.49,4.66,0),(4.43,4.58,1),(4.42,4.55,1),(4.37,4.45,0),(4.09,4.31,0),(4.0,4.23,1),(4.06,4.23,0),(3.95,4.14,1),(3.92,3.98,0),(3.91,4.08,1),(4.05,4.17,1),(4.28,4.42,1),(4.4,4.58,1),(4.51,4.68,1),(4.55,4.68,0),(4.46,4.68,1),(4.31,4.51,0),(4.4,4.54,0),(4.49,4.69,1),(4.71,4.83,1)]
y2025 = [(4.83,5.0,1),(4.8,5.0,0),(4.79,4.89,0),(4.71,4.83,0),(4.63,4.8,0),(4.52,4.71,0),(4.48,4.63,0),(4.43,4.66,1),(4.49,4.66,1),(4.33,4.59,0),(4.34,5.02,1),(4.72,4.91,0),(4.62,4.83,1),(4.83,4.91,1),(4.89,5.15,1),(4.85,5.03,0),(4.83,5.0,0),(4.8,4.89,0),(4.74,4.91,1),(4.85,4.99,1),(4.89,5.08,1),(4.8,5.0,0),(4.79,4.94,1),(4.83,4.97,0),(4.88,5.0,0),(4.65,4.8,0),(4.6,4.77,0),(4.62,4.79,0),(4.54,4.71,0),(4.53,4.63,1),(4.57,4.69,0),(4.65,4.75,1),(4.63,4.74,0),(4.74,4.8,1),(4.79,4.88,1),(4.79,4.88,1),(4.8,4.89,0)]
y2026 = [(4.8,4.93,1),(4.86,4.94,0),(4.79,4.89,0),(4.65,4.75,1),(4.6,4.74,1),(4.72,4.82,1),(4.88,4.97,1),(4.88,5.0,1),(4.83,4.95,1),(4.86,4.94,0),(4.91,4.97,1),(4.97,5.12,0),(4.97,5.2,0),(4.95,5.03,1),(4.94,5.03,0),(4.86,4.97,0),(4.83,4.97,0),(4.94,5.06,1),(4.99,5.09,1),(5.08,5.15,1),(5.09,5.28,1),(5.17,5.28,0),(5.19,5.34,1),(5.17,5.26,0)]

years = {1987:y1987,1988:y1988,1989:y1989,1990:y1990,1991:y1991,1992:y1992,1993:y1993,1994:y1994,1995:y1995,1996:y1996,1997:y1997,1998:y1998,1999:y1999,2000:y2000,2001:y2001,2002:y2002,2003:y2003,2004:y2004,2005:y2005,2006:y2006,2007:y2007,2008:y2008,2009:y2009,2010:y2010,2011:y2011,2012:y2012,2013:y2013,2014:y2014,2015:y2015,2016:y2016,2017:y2017,2018:y2018,2019:y2019,2020:y2020,2021:y2021,2022:y2022,2023:y2023,2024:y2024,2025:y2025,2026:y2026}
last_close = [5.213]
x_ticks = list(range(1988, 2027, 2))
y_ticks = [i / 2 for i in range(0, 23)]

RED = "#f23645"
BLACK = "#000000"
GRID = "#f1f3f6"
FONT = "Inter"

rows = []
for yr, bars in years.items():
    start, span = (1987.6, 0.4) if yr == 1987 else (yr, 0.64) if yr == 2026 else (yr, 1.0)
    for i, (lo, hi, up) in enumerate(bars):
        rows.append({"t": start + span * (i + 0.5) / len(bars), "lo": lo, "hi": hi, "c": BLACK if up else RED})
df = pd.DataFrame(rows)

x_scale = alt.Scale(domain=[1987.543, 2026.948], nice=False, zero=False)
y_scale = alt.Scale(domain=[-0.2215, 11.398], nice=False, zero=False)

one = alt.Data(values=[{}])


def txt(label, x, y, size=15.5, color="#131722", weight=400, align="left"):
    return alt.Chart(one).mark_text(
        text=label, font=FONT, fontSize=size, color=color, fontWeight=weight, align=align, baseline="middle"
    ).encode(x=alt.value(x - 14), y=alt.value(y - 35))


def box(x0, y0, x1, y1, **kw):
    return alt.Chart(one).mark_rect(**kw).encode(
        x=alt.value(x0 - 14), x2=alt.value(x1 - 14), y=alt.value(y0 - 35), y2=alt.value(y1 - 35)
    )


def icon(x, y, **kw):
    return alt.Chart(one).mark_point(**kw).encode(x=alt.value(x - 14), y=alt.value(y - 35))


bars = alt.Chart(df).mark_rule(strokeWidth=1.6).encode(
    x=alt.X("t:Q", scale=x_scale, axis=alt.Axis(
        values=x_ticks, format="d", title=None, orient="bottom", grid=True, gridColor=GRID, gridWidth=1,
        domain=False, ticks=False, labelFont=FONT, labelFontSize=16, labelFontWeight=700, labelColor="#131722",
        labelPadding=11, labelOverlap=False, labelFlush=False, labelBound=False)),
    y=alt.Y("lo:Q", scale=y_scale, axis=alt.Axis(
        values=y_ticks, title=None, orient="right", grid=True, gridColor=GRID, gridWidth=1,
        domain=False, ticks=False, labelFont=FONT, labelFontSize=16, labelPadding=14, labelOverlap=False,
        labelFlush=False, labelBound=False, labelAlign="left",
        labelExpr="datum.value > 10.5 ? '' : format(datum.value, '.3f') + '%'",
        labelFontWeight=alt.expr("datum.value % 1 == 0 ? 700 : 400"),
        labelColor=alt.expr("datum.value % 1 == 0 ? '#131722' : '#50535e'"))),
    y2="hi:Q",
    color=alt.Color("c:N", scale=None),
)

last_line = alt.Chart(alt.Data(values=[{"v": last_close[0]}])).mark_rule(
    color="#b8404e", strokeDash=[1.2, 4.5], strokeWidth=1.2
).encode(y=alt.Y("v:Q", scale=y_scale))

tv_logo = ("M-1,-0.47 L-0.13,-0.47 L-0.13,0.48 L-0.62,0.48 L-0.62,-0.17 L-1,-0.17 Z "
           "M0.07,-0.3 A0.15,0.15 0 1 1 0.37,-0.3 A0.15,0.15 0 1 1 0.07,-0.3 Z "
           "M0.5,-0.47 L1,-0.47 L0.5,0.48 L0.05,0.48 Z")
bolt = "M0.25,-1 L-0.65,0.2 L-0.05,0.2 L-0.3,1 L0.65,-0.25 L0.05,-0.25 Z"

chart = alt.layer(
    box(13, 34.5, 2436, 1330, fillOpacity=0, stroke="#f0f2f5", strokeWidth=2.5),
    bars,
    last_line,
    box(2345, 694, 2421, 717, color=RED),
    txt("5.213%", 2356, 705.5, color="#ffffff"),
    box(2348, 40, 2433, 74, fillOpacity=0, stroke="#f0f2f5", strokeWidth=1.5, cornerRadius=7),
    txt("%", 2361, 57, color="#131722"),
    txt("ByDHTaylor created with TradingView.com, Aug 29, 2026 10:54 UTC-6", 13, 21),
    txt("United States 30 Year Government Bonds Yield · 1W · TVC", 23, 56),
    txt("Vol: The data vendor doesn't provide volume data for this symbol.", 23, 78),
    txt("O", 459, 56), txt("5.259%", 471, 56, color=RED),
    txt("H", 537, 56), txt("5.261%", 548, 56, color=RED),
    txt("L", 611, 56), txt("5.155%", 620.5, 56, color=RED),
    txt("C", 684, 56), txt("5.213%", 695, 56, color=RED),
    txt("−0.063 (−1.19%)", 758, 56, color=RED),
    txt("US 30 Year Treasury Yield", 1214, 142, size=49, color="#14213d", weight=700, align="center"),
    txt("TradingView", 63, 1370, size=26.5, color="#131722", weight=600),
    icon(35, 1369, shape=tv_logo, size=1650, filled=True, color="#131722", opacity=1),
    icon(2326, 1278, shape="circle", size=676, filled=False, color="#9c27b0", strokeWidth=2, opacity=1),
    icon(2326, 1278, shape=bolt, size=170, filled=True, color="#9c27b0", opacity=1),
).properties(
    width=2329, height=1259,
    padding={"left": 6, "top": 27, "right": 100, "bottom": 90},
    autosize=alt.AutoSizeParams(type="none"),
    background="#ffffff",
).configure_view(stroke=None)

chart.save("out.html", embed_options={"renderer": "svg", "actions": False})
